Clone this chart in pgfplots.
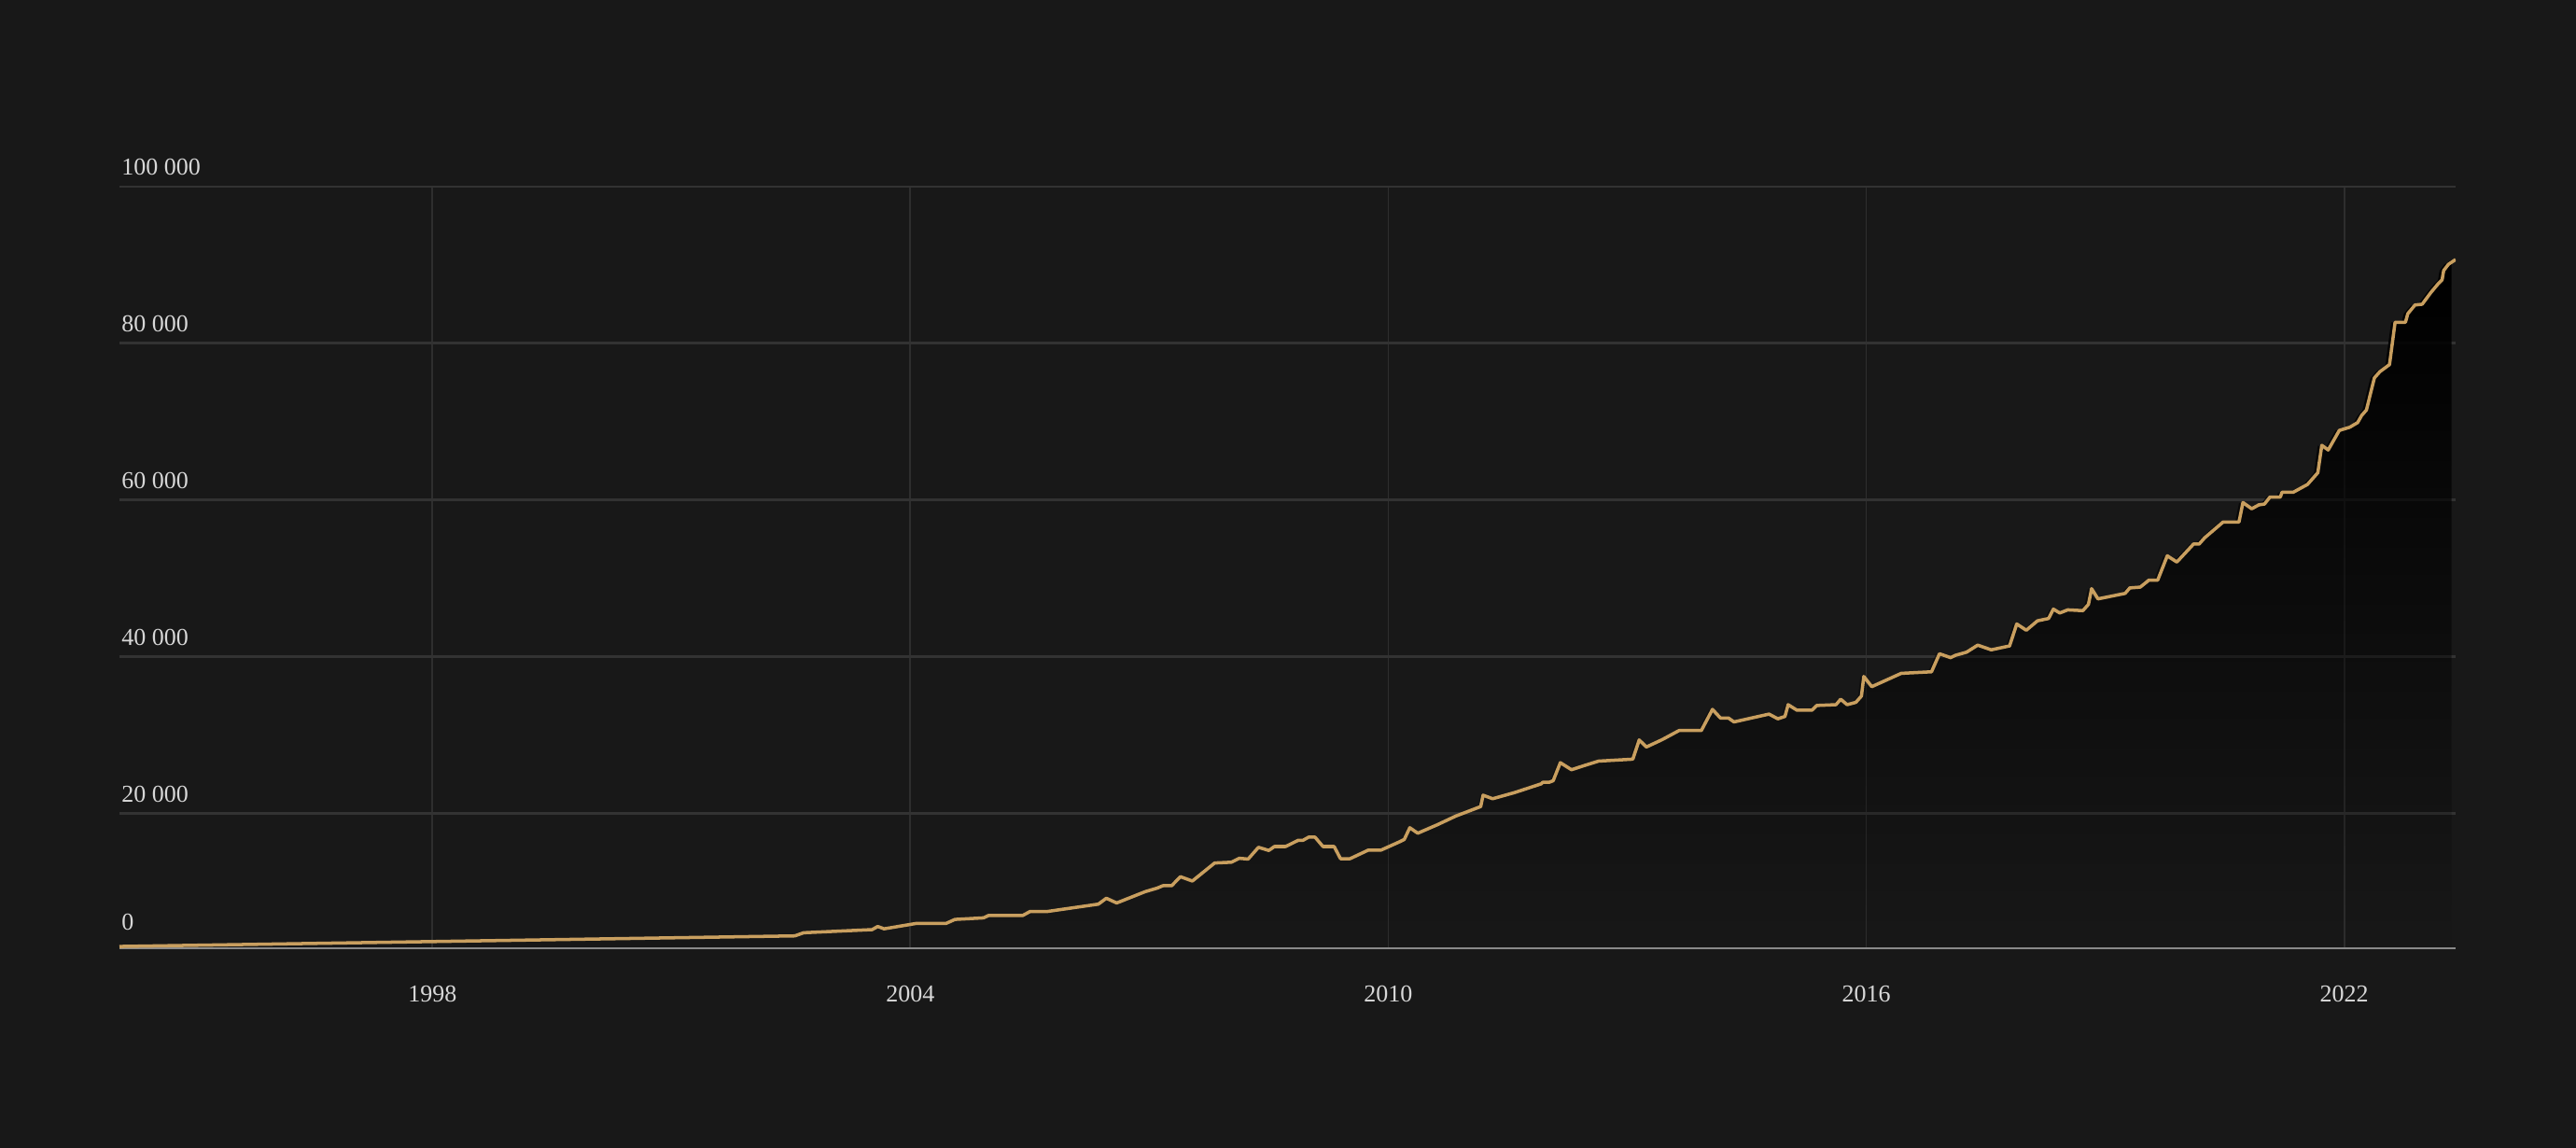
\documentclass[border=0pt]{standalone}
\usepackage{pgfplots}
\pgfplotsset{compat=1.18}
\usepackage{pgfplotstable}
\usepackage{fontspec}
\setmainfont{Liberation Serif}
\usetikzlibrary{fadings}

\definecolor{bgcol}{RGB}{24,24,24}
\definecolor{gridh}{RGB}{50,50,50}
\definecolor{gridv}{RGB}{46,46,46}
\definecolor{basecol}{RGB}{138,138,138}
\definecolor{txtcol}{RGB}{215,215,215}
\definecolor{linecol}{RGB}{201,159,95}

% values
\pgfplotstableread{
year value
1994.07 3050
2002.55 4400
2002.66 4800
2003.52 5200
2003.59 5600
2003.67 5300
2004.08 6000
2004.45 6000
2004.56 6500
2004.92 6700
2004.98 7000
2005.41 7000
2005.50 7500
2005.71 7500
2006.36 8450
2006.46 9200
2006.59 8600
2006.95 10050
2007.10 10500
2007.17 10800
2007.28 10800
2007.39 11950
2007.54 11400
2007.82 13700
2008.03 13800
2008.13 14300
2008.24 14200
2008.37 15700
2008.50 15300
2008.57 15800
2008.71 15800
2008.87 16600
2008.93 16600
2009.00 17000
2009.08 17000
2009.18 15800
2009.32 15800
2009.40 14250
2009.52 14250
2009.75 15350
2009.91 15350
2010.14 16400
2010.20 16700
2010.27 18200
2010.37 17500
2010.62 18600
2010.85 19700
2010.98 20200
2011.16 20900
2011.19 22350
2011.31 21900
2011.59 22700
2011.92 23800
2011.94 24000
2012.02 24000
2012.07 24200
2012.16 26500
2012.30 25600
2012.45 26100
2012.64 26700
2013.07 26950
2013.15 29400
2013.24 28500
2013.44 29450
2013.65 30600
2013.93 30600
2014.07 33300
2014.17 32200
2014.27 32200
2014.34 31700
2014.78 32700
2014.89 32100
2014.98 32400
2015.02 33900
2015.13 33200
2015.32 33200
2015.38 33800
2015.62 33900
2015.68 34600
2015.76 33900
2015.87 34200
2015.94 35000
2015.97 37500
2016.07 36200
2016.44 37900
2016.82 38100
2016.92 40400
2017.06 39900
2017.12 40200
2017.26 40600
2017.40 41500
2017.57 40900
2017.80 41400
2017.89 44200
2018.01 43400
2018.15 44600
2018.29 44900
2018.35 46100
2018.43 45600
2018.53 46000
2018.72 45900
2018.79 46700
2018.83 48700
2018.91 47400
2019.25 48100
2019.31 48800
2019.44 48900
2019.55 49800
2019.66 49800
2019.78 52900
2019.90 52100
2020.11 54400
2020.18 54400
2020.25 55200
2020.48 57200
2020.68 57200
2020.73 59700
2020.84 58900
2020.93 59400
2021.00 59500
2021.07 60400
2021.20 60400
2021.22 61000
2021.36 61000
2021.54 62000
2021.67 63500
2021.72 67000
2021.80 66400
2021.94 68900
2022.07 69300
2022.17 69900
2022.22 70800
2022.28 71500
2022.38 75600
2022.45 76400
2022.57 77300
2022.64 82700
2022.77 82700
2022.80 83800
2022.89 84900
2022.98 85000
2023.09 86500
2023.18 87600
2023.23 88100
2023.25 89300
2023.31 90100
2023.40 90700
}\datatable

\begin{document}
\begin{tikzpicture}
\fill[bgcol] (0,0) rectangle (27.6cm,12.3cm);
\begin{axis}[
    at={(1.28cm,2.14cm)}, anchor=south west,
    scale only axis,
    width=25.03cm, height=8.16cm,
    xmin=1994.07, xmax=2023.40,
    ymin=2820, ymax=100000,
    scaled y ticks=false, scaled x ticks=false,
    axis x line*=bottom, axis y line*=left,
    x axis line style={draw=basecol, line width=0.85pt},
    y axis line style={draw=none},
    major tick length=0pt,
    xtick={1998,2004,2010,2016,2022},
    xticklabels={1998,2004,2010,2016,2022},
    ytick={20000,40000,60000,80000,100000},
    yticklabels={20 000,40 000,60 000,80 000,100 000},
    extra y ticks={2820},
    extra y tick labels={0},
    extra y tick style={grid=none, yticklabel style={yshift=2pt}},
    xmajorgrids, ymajorgrids,
    x grid style={draw=gridv, line width=0.55pt},
    y grid style={draw=gridh, line width=0.85pt},
    tick label style={font=\fontsize{7.4}{9}\selectfont, text=txtcol},
    yticklabel style={anchor=south west, inner sep=0pt, xshift=0.5pt, yshift=3.3pt},
    xticklabel style={yshift=-8pt},
    clip=true,
]
\addplot[draw=none, fill=black, path fading=south] table[x=year, y=value] {\datatable} \closedcycle;
\addplot[draw=linecol, line width=1.0pt, line join=round, mark=none] table[x=year, y=value] {\datatable};
\end{axis}
\end{tikzpicture}
\end{document}
